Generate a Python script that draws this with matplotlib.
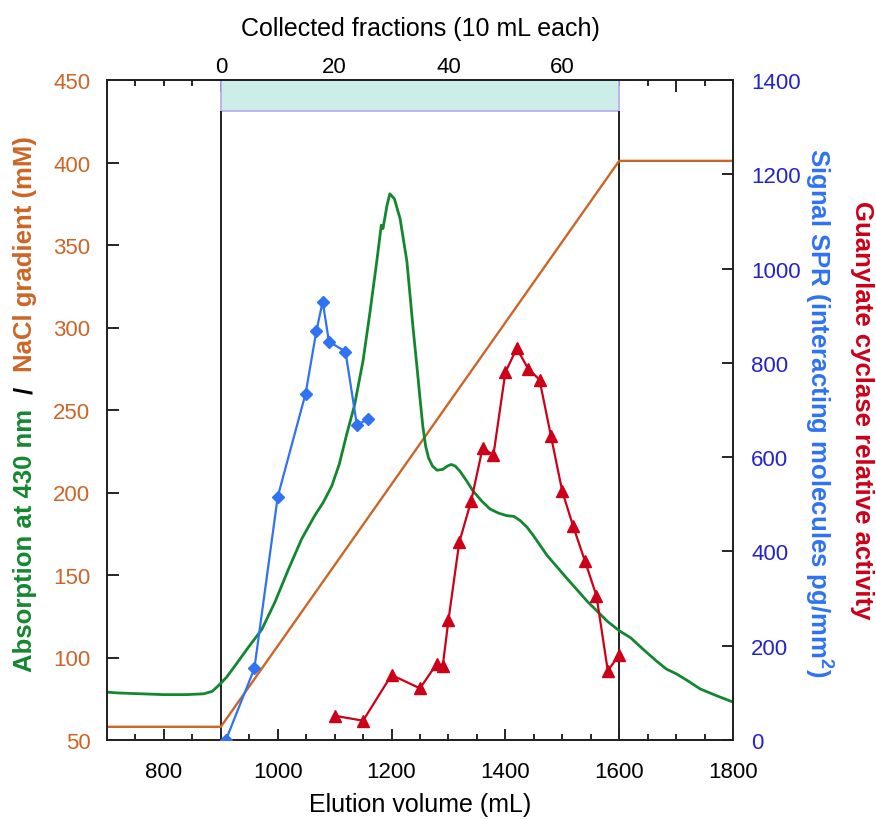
import matplotlib
matplotlib.use("Agg")
import matplotlib.pyplot as plt
from matplotlib.ticker import MultipleLocator

plt.rcParams['font.family'] = ['Liberation Sans', 'DejaVu Sans']
plt.rcParams['mathtext.fontset'] = 'custom'
plt.rcParams['mathtext.rm'] = 'Liberation Sans:bold'
plt.rcParams['mathtext.it'] = 'Liberation Sans:bold'
plt.rcParams['mathtext.bf'] = 'Liberation Sans:bold'

# absorption at 430 nm (left axis)
absVol = [700, 720, 760, 800, 840, 870, 885, 896, 910, 925, 948, 972, 995, 1019, 1042,
          1065, 1080, 1095, 1108, 1121, 1135, 1150, 1162, 1174, 1182, 1185, 1188, 1192, 1197,
          1205, 1215, 1227, 1238, 1245, 1250, 1255, 1260, 1265, 1272, 1280, 1290, 1298,
          1305, 1312, 1320, 1332, 1343, 1358, 1373, 1388, 1402, 1415, 1426, 1438, 1449,
          1473, 1508, 1544, 1579, 1601, 1620, 1642, 1665, 1683, 1701, 1720, 1742, 1770, 1800]
absVals = [79, 78.5, 78, 77.5, 77.5, 78, 79.5, 83, 88, 95, 106, 117, 133.5, 153.6, 171.8,
           186, 194, 204, 217, 235, 253, 280, 309, 340, 362, 360, 366, 374, 381,
           378, 366, 340, 299, 275, 257, 240, 228, 221, 216, 213.5, 214, 216,
           217, 216, 213, 207, 201, 195, 190, 187.5, 186, 185.5, 183, 179, 174,
           162, 148, 134, 122, 116, 112, 105, 98, 93, 90, 86, 81, 77, 73]

# NaCl gradient (mM, left axis)
naclVol = [700, 900, 1600, 1800]
naclVals = [58, 58, 401, 401]

# SPR signal (right axis)
sprVol = [909, 959, 1000, 1049, 1068, 1079, 1090, 1119, 1139, 1159]
sprVals = [0, 152, 516, 735, 868, 930, 845, 824, 669, 680]

# guanylate cyclase relative activity (drawn on left scale)
gcVol = [1100, 1150, 1200, 1250, 1279, 1290, 1300, 1319, 1340, 1360, 1379, 1400, 1420,
         1440, 1460, 1480, 1500, 1519, 1540, 1560, 1580, 1600]
gcVals = [64.7, 61.7, 89.4, 81.3, 96, 95, 122.7, 169.8, 195, 227, 222.7, 272.8, 287.4,
          275, 268.4, 234.4, 200.7, 179.7, 158.3, 137.5, 92, 101.5]

green = '#13872f'
orange = '#cc6626'
blue = '#2f72f2'
navy = '#2323cc'
red = '#cc0018'

fig = plt.figure(figsize=(8.76, 8.2), dpi=100)
ax = fig.add_axes([107/876, 1 - 741/820, 626/876, 660/820])
ax2 = ax.twinx()

ax.set_xlim(700, 1800)
ax.set_ylim(50, 450)
ax2.set_ylim(0, 1400)

# fraction band and markers
ax.fill_between([900, 1600], 431, 450, facecolor='#cbeee8', edgecolor='#b8a8ee', lw=1.2, zorder=1)
ax.vlines([900, 1600], 50, 431, color='#222222', lw=1.4, zorder=2)

ax.plot(naclVol, naclVals, color=orange, lw=1.7, zorder=3)
ax.plot(absVol, absVals, color=green, lw=2.0, zorder=4)
ax.plot(gcVol, gcVals, color=red, lw=1.6, marker='^', ms=8.5, zorder=5)
ax2.plot(sprVol, sprVals, color=blue, lw=1.6, marker='D', ms=6.5, zorder=5)

for a in (ax, ax2):
    for s in a.spines.values():
        s.set_linewidth(1.3)
        s.set_color('#222222')

ax.xaxis.set_major_locator(MultipleLocator(200))
ax.xaxis.set_minor_locator(MultipleLocator(50))
ax.set_yticks(range(50, 451, 50))
ax.tick_params(axis='x', which='major', direction='in', length=8, width=1.2, labelsize=16, pad=15)
ax.tick_params(axis='x', which='minor', direction='in', length=4, width=1.2)
ax.tick_params(axis='y', direction='in', length=8.5, width=1.2, labelsize=16, labelcolor=orange, pad=12)
ax2.set_yticks(range(0, 1401, 200))
ax2.tick_params(axis='y', direction='in', length=8, width=1.2, labelsize=16, labelcolor=navy, pad=13)

ax.set_xlabel('Elution volume (mL)', fontsize=18, labelpad=7)

sec = ax.secondary_xaxis('top', functions=(lambda v: (v - 900) / 10, lambda f: f * 10 + 900))
sec.set_xticks([0, 20, 40, 60, 80], labels=['0', '20', '40', '60', ''])
sec.xaxis.set_minor_locator(MultipleLocator(5))
sec.tick_params(axis='x', which='major', direction='in', length=8.5, width=1.2, labelsize=16, pad=2)
sec.tick_params(axis='x', which='minor', direction='in', length=4.5, width=1.2)
sec.spines['top'].set_linewidth(1.3)
sec.set_xlabel('Collected fractions (10 mL each)', fontsize=18, labelpad=15)

# left label in three colours
fig.canvas.draw()
r = fig.canvas.get_renderer()
x0 = 25 / 876
t1 = fig.text(x0, 148 / 820, 'Absorption at 430 nm', rotation=90, color=green,
              fontsize=18.5, fontweight='bold', ha='center', va='bottom')
y1 = t1.get_window_extent(r).y1
t2 = fig.text(x0, (y1 + 15) / 820, '/', rotation=90, color='black',
              fontsize=18.5, fontweight='bold', ha='center', va='bottom')
y2 = t2.get_window_extent(r).y1
fig.text(x0, (y2 + 15) / 820, 'NaCl gradient (mM)', rotation=90, color=orange,
         fontsize=18.5, fontweight='bold', ha='center', va='bottom')

fig.text(818 / 876, 0.497, r'Signal SPR (interacting molecules pg/mm$^{2}$)', rotation=270,
         color=blue, fontsize=18.5, fontweight='bold', ha='center', va='center')
fig.text(862 / 876, 0.5, 'Guanylate cyclase relative activity', rotation=270,
         color=red, fontsize=18.5, fontweight='bold', ha='center', va='center')

fig.savefig('out.png', dpi=100)
